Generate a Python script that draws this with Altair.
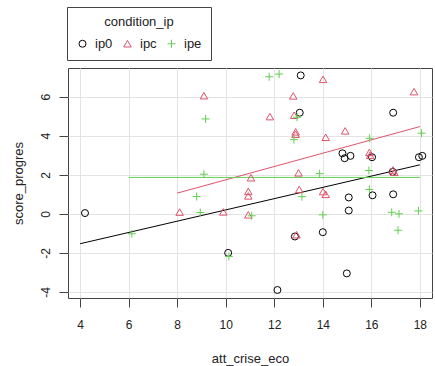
import altair as alt
import pandas as pd

# Observations per condition (att_crise_eco, score_progres)
ip0_x = [4.2, 10.1, 12.13, 12.85, 13.05, 13.09, 14.0, 14.81, 14.9, 15.14,
         15.07, 15.07, 14.99, 16.03, 16.05, 16.9, 16.9, 16.88, 17.96, 18.1]
ip0_y = [0.04, -2.0, -3.9, -1.16, 5.18, 7.09, -0.94, 3.1, 2.85, 2.97,
         0.84, 0.17, -3.05, 2.9, 0.95, 5.18, 1.0, 2.15, 2.9, 2.97]

ipc_x = [8.1, 9.1, 9.9, 10.93, 10.93, 10.93, 11.04, 11.82, 12.78, 12.82,
         12.88, 12.88, 12.92, 13.0, 13.03, 14.01, 14.12, 14.92, 14.01, 14.12,
         15.92, 15.95, 16.89, 16.95, 17.76]
ipc_y = [0.09, 6.05, 0.1, 1.15, 0.92, -0.05, 1.85, 4.98, 6.04, 5.05,
         4.2, 4.08, -1.07, 2.1, 1.25, 6.89, 3.92, 4.25, 1.14, 1.0,
         3.15, 3.0, 2.25, 2.13, 6.26]

ipe_x = [6.13, 8.8, 8.95, 9.1, 9.17, 10.13, 11.07, 11.79, 12.2, 12.81,
         12.94, 13.14, 13.87, 14.0, 15.9, 15.92, 15.93, 16.84, 17.14, 17.1,
         17.94, 18.07]
ipe_y = [-1.02, 0.89, 0.07, 2.03, 4.86, -2.18, -0.1, 7.02, 7.16, 3.8,
         4.95, 0.88, 2.06, -0.05, 2.22, 1.25, 3.87, 0.08, 0.0, -0.84,
         0.15, 4.13]

# Least-squares fit per condition, as segment endpoints
fit_group = ["ip0", "ipc", "ipe"]
fit_x0 = [4.0, 8.0, 6.0]
fit_x1 = [18.0, 18.0, 18.0]
fit_y0 = [-1.53, 1.06, 1.865]
fit_y1 = [2.51, 4.47, 1.865]

groups = ["ip0", "ipc", "ipe"]
colors = ["#000000", "#DF536B", "#61D04F"]
shapes = ["circle", "triangle-up", "M-1,0L1,0M0,-1L0,1"]

x_ticks = [4, 6, 8, 10, 12, 14, 16, 18]
y_ticks = [-4, -2, 0, 2, 4, 6]

points = pd.concat([
    pd.DataFrame({"att_crise_eco": ip0_x, "score_progres": ip0_y, "condition_ip": "ip0"}),
    pd.DataFrame({"att_crise_eco": ipc_x, "score_progres": ipc_y, "condition_ip": "ipc"}),
    pd.DataFrame({"att_crise_eco": ipe_x, "score_progres": ipe_y, "condition_ip": "ipe"}),
], ignore_index=True)

fits = pd.DataFrame({"condition_ip": fit_group, "x0": fit_x0, "x1": fit_x1,
                     "y0": fit_y0, "y1": fit_y1})

x_scale = alt.Scale(domain=[3.5, 18.5], nice=False, zero=False)
y_scale = alt.Scale(domain=[-4.31, 7.47], nice=False, zero=False)
color_scale = alt.Scale(domain=groups, range=colors)

x_axis = alt.Axis(values=x_ticks, title="att_crise_eco", grid=True,
                  labelExpr="datum.value + ''", labelPadding=12,
                  titlePadding=22)
y_axis = alt.Axis(values=y_ticks, title="score_progres", grid=True,
                  labelExpr="datum.value + ''", labelAngle=-90,
                  labelAlign="center", labelBaseline="bottom",
                  labelPadding=7, titlePadding=14)

legend = alt.Legend(
    title="condition_ip", orient="none",
    legendX=-1, legendY=-61, direction="horizontal",
    titleAnchor="middle", titleFontWeight="normal",
    titleFontSize=13, labelFontSize=13,
    strokeColor="#444", padding=9, titlePadding=8,
    symbolSize=30, symbolStrokeWidth=1,
    columnPadding=8, labelOffset=6)

pts = alt.Chart(points).mark_point(filled=False, strokeWidth=1, opacity=1).encode(
    x=alt.X("att_crise_eco:Q", scale=x_scale, axis=x_axis),
    y=alt.Y("score_progres:Q", scale=y_scale, axis=y_axis),
    color=alt.Color("condition_ip:N", scale=color_scale, legend=legend),
    shape=alt.Shape("condition_ip:N",
                    scale=alt.Scale(domain=groups, range=shapes), legend=legend),
    size=alt.Size("condition_ip:N",
                  scale=alt.Scale(domain=groups, range=[49, 64, 81]),
                  legend=None),
)

lines = alt.Chart(fits).mark_rule(strokeWidth=1).encode(
    x=alt.X("x0:Q", scale=x_scale),
    x2="x1:Q",
    y=alt.Y("y0:Q", scale=y_scale),
    y2="y1:Q",
    color=alt.Color("condition_ip:N", scale=color_scale),
)

chart = alt.layer(lines, pts).properties(
    width=364, height=230,
    padding={"left": 68, "top": 68, "right": 3, "bottom": 68},
    autosize=alt.AutoSizeParams(type="none"),
    background="white",
).configure_view(
    stroke="#444", strokeWidth=1
).configure_axis(
    domain=False, tickColor="#444", tickSize=9, tickWidth=1,
    gridColor="#E3E3E3", gridWidth=1,
    labelFont="Liberation Sans", labelFontSize=12, labelColor="#222",
    titleFont="Liberation Sans", titleFontSize=13, titleFontWeight="normal",
    titleColor="#222",
).configure_legend(
    labelFont="Liberation Sans", titleFont="Liberation Sans",
    labelColor="#222", titleColor="#222",
)

chart.save("out.html", embed_options={"renderer": "svg", "actions": False})
